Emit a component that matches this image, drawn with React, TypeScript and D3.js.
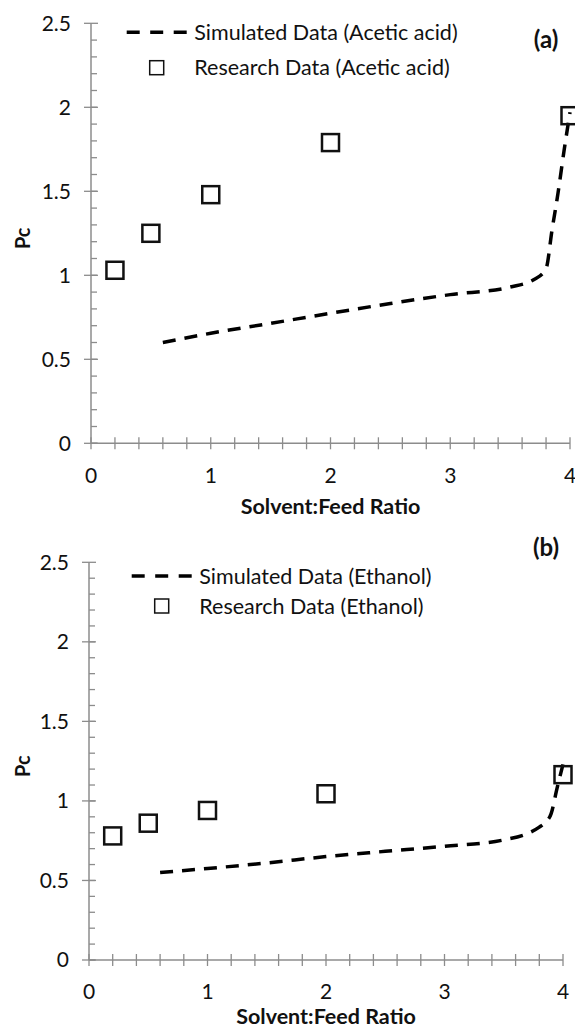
import React, { useEffect, useRef } from "react";
import * as d3 from "d3";

// tick labels
const xTickLabels = [0, 1, 2, 3, 4];
const yTickLabels = [0, 0.5, 1, 1.5, 2, 2.5];

// simulated curves (dashed)
const simRatio = [0.6, 1.0, 1.5, 2.0, 2.5, 3.0, 3.5, 3.7, 3.8, 3.85, 3.9, 3.95, 4.0];
const simAcetic = [0.6, 0.655, 0.714, 0.774, 0.832, 0.885, 0.93, 0.975, 1.04, 1.27, 1.49, 1.74, 1.97];
const simEthanol = [0.55, 0.575, 0.61, 0.65, 0.683, 0.715, 0.755, 0.795, 0.835, 0.865, 0.92, 1.08, 1.23];

// research data (squares)
const researchRatio = [0.2, 0.5, 1, 2, 4];
const researchAcetic = [1.03, 1.25, 1.48, 1.79, 1.95];
const researchEthanol = [0.78, 0.86, 0.94, 1.045, 1.165];

const simNames = ["Simulated Data (Acetic acid)", "Simulated Data (Ethanol)"];
const researchNames = ["Research Data (Acetic acid)", "Research Data (Ethanol)"];
const panelLabels = ["(a)", "(b)"];

const FONT = "Lato, 'Open Sans', sans-serif";
const AXIS = "#8c8c8c";

const panels = [
  {
    sim: simAcetic,
    research: researchAcetic,
    xRange: [91, 570],
    yRange: [443.3, 23.3],
    legendY: [32.3, 67.7],
    legendX: 126.7,
    tag: [546, 40],
    titleDy: 63,
  },
  {
    sim: simEthanol,
    research: researchEthanol,
    xRange: [89, 563],
    yRange: [960, 562.3],
    legendY: [576, 606],
    legendX: 131.7,
    tag: [546, 548],
    titleDy: 56,
  },
];

const App: React.FC = () => {
  const svgRef = useRef<SVGSVGElement>(null);

  useEffect(() => {
    if (!svgRef.current) return;
    const root = d3.select(svgRef.current);
    root.selectAll("*").remove();

    panels.forEach((p, i) => {
      const g = root.append("g");
      const x = d3.scaleLinear().domain([0, 4]).range(p.xRange);
      const y = d3.scaleLinear().domain([0, 2.5]).range(p.yRange);
      const x0 = x(0);
      const y0 = y(0);

      // y axis
      g.append("line")
        .attr("x1", x0).attr("x2", x0)
        .attr("y1", y(2.5)).attr("y2", y0)
        .attr("stroke", AXIS).attr("stroke-width", 1.5);
      g.selectAll(".ymin")
        .data(d3.range(0, 25).map((k) => k / 10))
        .join("line")
        .attr("x1", x0).attr("x2", x0 + 6)
        .attr("y1", (d) => y(d)).attr("y2", (d) => y(d))
        .attr("stroke", AXIS).attr("stroke-width", 1.3);
      g.selectAll(".ymaj")
        .data(yTickLabels)
        .join("line")
        .attr("x1", x0 - 7).attr("x2", x0 + 7)
        .attr("y1", (d) => y(d)).attr("y2", (d) => y(d))
        .attr("stroke", AXIS).attr("stroke-width", 1.3);
      g.selectAll(".ylab")
        .data(yTickLabels)
        .join("text")
        .attr("x", x0 - 20)
        .attr("y", (d) => y(d))
        .attr("dy", "0.35em")
        .attr("text-anchor", "end")
        .attr("font-family", FONT)
        .attr("font-size", 21)
        .attr("fill", "#111")
        .text((d) => String(d));

      // x axis
      g.append("line")
        .attr("x1", x0).attr("x2", x(4))
        .attr("y1", y0).attr("y2", y0)
        .attr("stroke", AXIS).attr("stroke-width", 1.5);
      g.selectAll(".xmin")
        .data(d3.range(0, 21).map((k) => k / 5))
        .join("line")
        .attr("x1", (d) => x(d)).attr("x2", (d) => x(d))
        .attr("y1", y0 - 6).attr("y2", y0 + 6)
        .attr("stroke", AXIS).attr("stroke-width", 1.3);
      g.selectAll(".xlab")
        .data(xTickLabels)
        .join("text")
        .attr("x", (d) => x(d))
        .attr("y", y0 + 32)
        .attr("dy", "0.35em")
        .attr("text-anchor", "middle")
        .attr("font-family", FONT)
        .attr("font-size", 21)
        .attr("fill", "#111")
        .text((d) => String(d));

      // axis titles
      g.append("text")
        .attr("x", (x0 + x(4)) / 2)
        .attr("y", y0 + p.titleDy)
        .attr("dy", "0.35em")
        .attr("text-anchor", "middle")
        .attr("font-family", FONT)
        .attr("font-weight", "bold")
        .attr("font-size", 21.5)
        .attr("fill", "#111")
        .text("Solvent:Feed Ratio");
      g.append("text")
        .attr("transform", `translate(23,${(y0 + y(2.5)) / 2 + 5}) rotate(-90)`)
        .attr("dy", "0.35em")
        .attr("text-anchor", "middle")
        .attr("font-family", FONT)
        .attr("font-weight", "bold")
        .attr("font-size", 20)
        .attr("fill", "#111")
        .text("Pc");

      // simulated dashed curve
      const line = d3
        .line<number>()
        .x((_, k) => x(simRatio[k]))
        .y((d) => y(d))
        .curve(d3.curveMonotoneX);
      g.append("path")
        .attr("d", line(p.sim) || "")
        .attr("fill", "none")
        .attr("stroke", "#000")
        .attr("stroke-width", 3.5)
        .attr("stroke-dasharray", "13,9");

      // research squares
      const s = 17;
      g.selectAll(".pt")
        .data(p.research)
        .join("rect")
        .attr("x", (_, k) => x(researchRatio[k]) - s / 2)
        .attr("y", (d) => y(d) - s / 2)
        .attr("width", s)
        .attr("height", s)
        .attr("fill", "none")
        .attr("stroke", "#111")
        .attr("stroke-width", 2.5);

      // legend
      const lx = p.legendX;
      g.append("line")
        .attr("x1", lx).attr("x2", lx + 60)
        .attr("y1", p.legendY[0]).attr("y2", p.legendY[0])
        .attr("stroke", "#000")
        .attr("stroke-width", 3.5)
        .attr("stroke-dasharray", "13,10.5");
      g.append("text")
        .attr("x", lx + 67.6)
        .attr("y", p.legendY[0])
        .attr("dy", "0.35em")
        .attr("font-family", FONT)
        .attr("font-size", 21.5)
        .attr("fill", "#111")
        .text(simNames[i]);
      g.append("rect")
        .attr("x", lx + 30 - 7)
        .attr("y", p.legendY[1] - 7)
        .attr("width", 14)
        .attr("height", 14)
        .attr("fill", "none")
        .attr("stroke", "#111")
        .attr("stroke-width", 1.5);
      g.append("text")
        .attr("x", lx + 67.6)
        .attr("y", p.legendY[1])
        .attr("dy", "0.35em")
        .attr("font-family", FONT)
        .attr("font-size", 21.5)
        .attr("fill", "#111")
        .text(researchNames[i]);

      // panel tag
      g.append("text")
        .attr("x", p.tag[0])
        .attr("y", p.tag[1])
        .attr("dy", "0.35em")
        .attr("text-anchor", "middle")
        .attr("font-family", FONT)
        .attr("font-weight", "bold")
        .attr("font-size", 24)
        .attr("fill", "#111")
        .text(panelLabels[i]);
    });
  }, []);

  return (
    <svg
      ref={svgRef}
      width={575}
      height={1029}
      style={{ position: "absolute", left: 0, top: 0, background: "#fff" }}
    />
  );
};

export default App;
